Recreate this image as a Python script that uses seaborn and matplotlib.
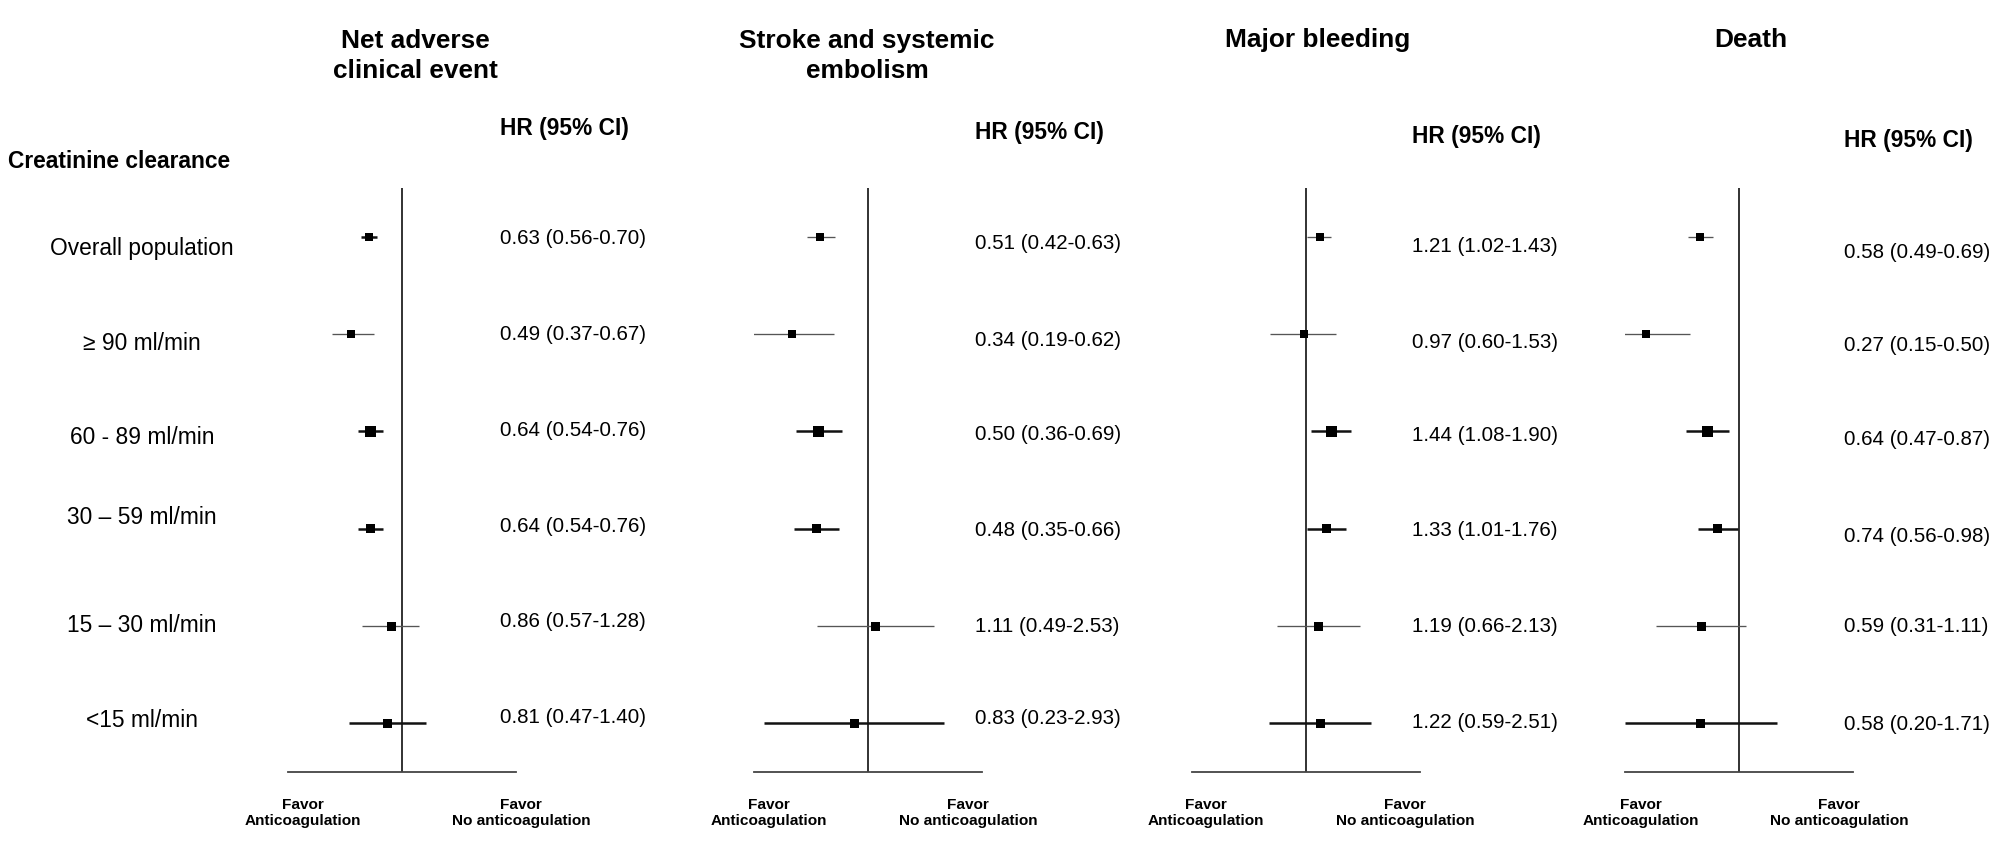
import matplotlib
matplotlib.use("Agg")
import matplotlib.pyplot as plt
from matplotlib import font_manager
from matplotlib.ticker import NullLocator
import seaborn as sns
import pandas as pd

# ---------------- data ----------------
subgroups = ["Overall population", "\u2265 90 ml/min", "60 - 89 ml/min",
             "30 \u2013 59 ml/min", "15 \u2013 30 ml/min", "<15 ml/min"]
outcomes = ["Net adverse\nclinical event", "Stroke and systemic\nembolism",
            "Major bleeding", "Death"]

nace_hr = [0.63, 0.49, 0.64, 0.64, 0.86, 0.81]
nace_lo = [0.56, 0.37, 0.54, 0.54, 0.57, 0.47]
nace_hi = [0.70, 0.67, 0.76, 0.76, 1.28, 1.40]

stroke_hr = [0.51, 0.34, 0.50, 0.48, 1.11, 0.83]
stroke_lo = [0.42, 0.19, 0.36, 0.35, 0.49, 0.23]
stroke_hi = [0.63, 0.62, 0.69, 0.66, 2.53, 2.93]

bleed_hr = [1.21, 0.97, 1.44, 1.33, 1.19, 1.22]
bleed_lo = [1.02, 0.60, 1.08, 1.01, 0.66, 0.59]
bleed_hi = [1.43, 1.53, 1.90, 1.76, 2.13, 2.51]

death_hr = [0.58, 0.27, 0.64, 0.74, 0.59, 0.58]
death_lo = [0.49, 0.15, 0.47, 0.56, 0.31, 0.20]
death_hi = [0.69, 0.50, 0.87, 0.98, 1.11, 1.71]

panels = [(nace_hr, nace_lo, nace_hi), (stroke_hr, stroke_lo, stroke_hi),
          (bleed_hr, bleed_lo, bleed_hi), (death_hr, death_lo, death_hi)]

# ---------------- style / layout ----------------
W, H = 2008, 853
sns.set_theme(style="white")


def has_font(name):
    try:
        font_manager.findfont(font_manager.FontProperties(family=name),
                              fallback_to_default=False)
        return True
    except Exception:
        return False


narrow = has_font("Liberation Sans Narrow")
FAM = (["Liberation Sans Narrow", "Liberation Sans", "DejaVu Sans"] if narrow
       else ["Liberation Sans", "DejaVu Sans"])
K = 1.0 if narrow else 0.82
plt.rcParams["font.family"] = FAM
plt.rcParams["text.color"] = "black"

fig = plt.figure(figsize=(W / 100, H / 100), dpi=100)
fig.patch.set_facecolor("white")


def fx(x):
    return x / W


def fy(y):
    return 1 - y / H


centers = [402, 868, 1306, 1739]
half_w = 114
ax_top, ax_bot = 189, 773
title_x = [415, 867, 1318, 1751]
hr_head_y = [128, 133, 136, 140]
hr_text_x = [500, 975, 1412, 1844]
hr_text_y = [[238, 335, 431, 526, 622, 718],
             [244, 340, 435, 531, 627, 719],
             [247, 342, 436, 531, 627, 723],
             [252, 346, 440, 536, 627, 724]]
favor_left_x = [303, 769, 1206, 1641]
favor_right_x = [521, 968, 1405, 1839]
label_y = [248, 343, 438, 518, 626, 721]

marker_side_px = [8, 8, 11, 9, 9, 9]
sizes = [(s * 0.72) ** 2 for s in marker_side_px]
THIN, THICK = 0.95, 1.8
row_lw = [[THICK, THIN, THICK, THICK, THIN, THICK],
          [THIN, THIN, THICK, THICK, THIN, THICK],
          [THIN, THIN, THICK, THICK, THIN, THICK],
          [THIN, THIN, THICK, THICK, THIN, THICK]]

for i, (hr, lo, hi) in enumerate(panels):
    c = centers[i]
    ax = fig.add_axes([fx(c - half_w), fy(ax_bot), 2 * half_w / W,
                       (ax_bot - ax_top) / H])
    df = pd.DataFrame({"row": list(range(len(subgroups))), "hr": hr,
                       "lo": lo, "hi": hi})
    lws = row_lw[i]
    cols = ["#111111" if lw == THICK else "#555555" for lw in lws]
    ax.hlines(df["row"], df["lo"], df["hi"], linewidths=lws, colors=cols,
              zorder=2)
    sns.scatterplot(data=df, x="hr", y="row", marker="s", s=sizes,
                    color="black", linewidth=0, ax=ax, zorder=3, legend=False)
    ax.axvline(1, color="#222222", lw=1.3, zorder=1)
    ax.set_xscale("log")
    ax.set_xlim(0.2, 5)
    ax.set_ylim(5.5, -0.5)
    ax.set_xticks([])
    ax.set_yticks([])
    ax.xaxis.set_minor_locator(NullLocator())
    ax.set_xlabel("")
    ax.set_ylabel("")
    ax.set_facecolor("none")
    sns.despine(ax=ax, left=True, top=True, right=True)
    ax.spines["bottom"].set_color("#444444")
    ax.spines["bottom"].set_linewidth(1.3)

    # title
    ty = 56 if "\n" in outcomes[i] else 40
    fig.text(fx(title_x[i]), fy(ty), outcomes[i], ha="center", va="center",
             fontsize=23 * K, fontweight="bold", linespacing=1.3)
    # HR header
    fig.text(fx(hr_text_x[i]), fy(hr_head_y[i]), "HR (95% CI)", ha="left",
             va="center", fontsize=20 * K, fontweight="bold")
    # HR values
    for r in range(len(subgroups)):
        txt = f"{hr[r]:.2f} ({lo[r]:.2f}-{hi[r]:.2f})"
        fig.text(fx(hr_text_x[i]), fy(hr_text_y[i][r]), txt, ha="left",
                 va="center", fontsize=18 * K)
    # favor labels
    fig.text(fx(favor_left_x[i]), fy(813), "Favor\nAnticoagulation",
             ha="center", va="center", fontsize=13.5 * K, fontweight="bold",
             linespacing=1.25)
    fig.text(fx(favor_right_x[i]), fy(813), "Favor\nNo anticoagulation",
             ha="center", va="center", fontsize=13.5 * K, fontweight="bold",
             linespacing=1.25)

# left column
fig.text(fx(8), fy(161), "Creatinine clearance", ha="left", va="center",
         fontsize=20 * K, fontweight="bold")
for r, lab in enumerate(subgroups):
    fig.text(fx(142), fy(label_y[r]), lab, ha="center", va="center",
             fontsize=20 * K)

fig.savefig("out.png", dpi=100, facecolor="white")
